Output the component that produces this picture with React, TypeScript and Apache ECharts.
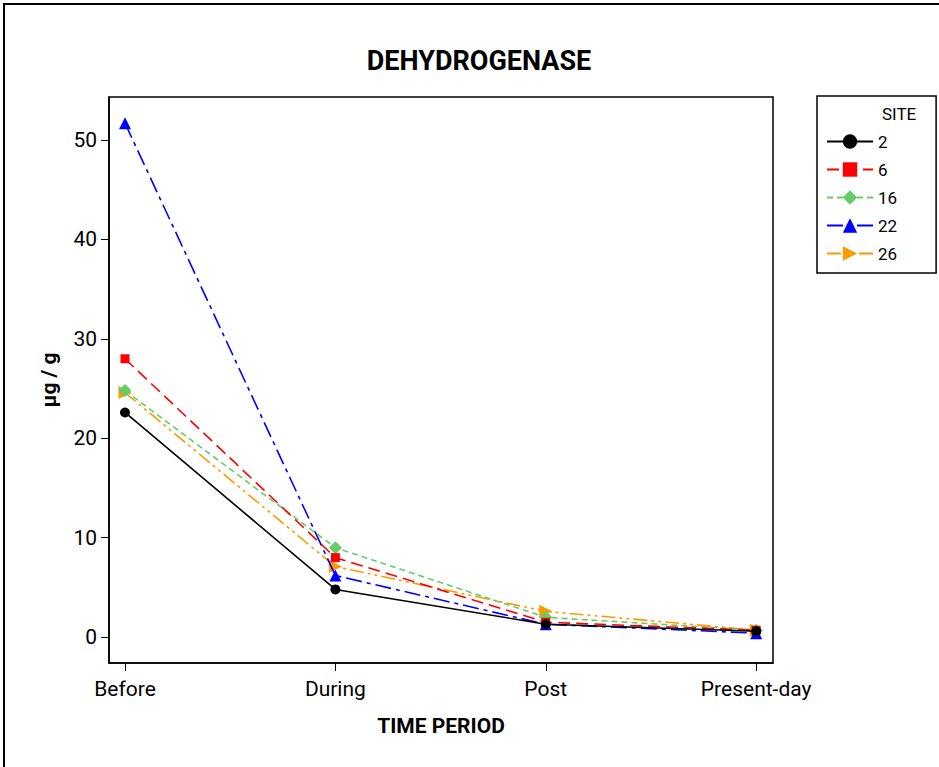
import React, { useEffect, useRef } from "react";
import * as echarts from "echarts";

const categories = ["Before", "During", "Post", "Present-day"];
const yTicks = [0, 10, 20, 30, 40, 50];
const sites = ["2", "6", "16", "22", "26"];
const site2 = [22.6, 4.8, 1.3, 0.6];
const site6 = [28.0, 8.0, 1.5, 0.7];
const site16 = [24.8, 9.0, 2.0, 0.7];
const site22 = [51.7, 6.2, 1.3, 0.4];
const site26 = [24.6, 7.1, 2.6, 0.7];

const FONT = "Roboto, 'Liberation Sans', sans-serif";

export default function App() {
  const ref = useRef<HTMLDivElement>(null);
  useEffect(() => {
    document.body.style.margin = "0";
    const chart = echarts.init(ref.current!, null, { renderer: "svg" });
    const toPts = (arr: number[]) => arr.map((v, i) => [i, v]);
    const styles = [
      { color: "#000000", symbol: "circle", size: 10, type: "solid", rotate: 0 },
      { color: "#FF0000", symbol: "rect", size: 9, type: [12, 6], rotate: 0 },
      { color: "#66CC66", symbol: "diamond", size: 13, type: [6, 4], rotate: 0 },
      { color: "#0000FF", symbol: "triangle", size: 12, type: [16, 5, 4, 5], rotate: 0 },
      { color: "#FF9900", symbol: "triangle", size: 13, type: [14, 4, 3, 4, 3, 4], rotate: -90 },
    ];
    const data = [site2, site6, site16, site22, site26];
    chart.setOption({
      animation: false,
      backgroundColor: "#ffffff",
      textStyle: { fontFamily: FONT },
      title: {
        text: "DEHYDROGENASE",
        left: 474,
        textAlign: "center",
        top: 42,
        textStyle: { fontFamily: FONT, fontWeight: "bold", fontSize: 27, color: "#000" },
      },
      graphic: [
        {
          type: "rect",
          shape: { x: 4, y: 4, width: 1200, height: 1200 },
          style: { fill: "none", stroke: "#000", lineWidth: 2 },
          silent: true,
        },
        {
          type: "text",
          left: 882,
          top: 105,
          style: { text: "SITE", fontFamily: FONT, fontSize: 17, fill: "#000" },
          silent: true,
        },
      ],
      legend: {
        orient: "vertical",
        left: 817,
        top: 96,
        padding: [37, 39, 11, 9],
        borderColor: "#000",
        borderWidth: 1.5,
        itemWidth: 46,
        itemHeight: 18,
        itemGap: 11,
        data: sites,
        textStyle: { fontFamily: FONT, fontSize: 17, color: "#000" },
      },
      grid: {
        left: 109,
        top: 97,
        width: 664,
        height: 566,
        show: true,
        borderColor: "#000",
        borderWidth: 1.5,
        containLabel: false,
      },
      xAxis: {
        type: "value",
        min: -0.076,
        max: 3.08,
        name: "TIME PERIOD",
        nameLocation: "middle",
        nameGap: 52,
        nameTextStyle: { fontFamily: FONT, fontWeight: "bold", fontSize: 21, color: "#000" },
        splitLine: { show: false },
        axisLine: { show: true, onZero: false, lineStyle: { color: "#000", width: 1.5 } },
        axisTick: { show: true, length: 8, inside: false, customValues: [0, 1, 2, 3], lineStyle: { color: "#000" } },
        axisLabel: {
          customValues: [0, 1, 2, 3],
          formatter: (v: number) => categories[Math.round(v)] ?? "",
          margin: 15,
          fontFamily: FONT,
          fontSize: 21,
          color: "#000",
        },
      },
      yAxis: {
        type: "value",
        min: -2.6,
        max: 54.33,
        name: "µg / g",
        nameLocation: "middle",
        nameGap: 50,
        nameTextStyle: { fontFamily: FONT, fontWeight: "bold", fontSize: 21, color: "#000" },
        splitLine: { show: false },
        axisLine: { show: true, onZero: false, lineStyle: { color: "#000", width: 1.5 } },
        axisTick: { show: true, length: 8, inside: false, customValues: yTicks, lineStyle: { color: "#000" } },
        axisLabel: {
          customValues: yTicks,
          margin: 12,
          fontFamily: FONT,
          fontSize: 21,
          color: "#000",
        },
      },
      series: sites.map((s, i) => ({
        name: s,
        type: "line",
        data: toPts(data[i]),
        symbol: styles[i].symbol,
        symbolSize: styles[i].size,
        symbolRotate: styles[i].rotate,
        showAllSymbol: true,
        itemStyle: { color: styles[i].color },
        lineStyle: { color: styles[i].color, width: 1.6, type: styles[i].type as any },
        z: 10 - i,
      })),
    });
    return () => chart.dispose();
  }, []);
  return <div ref={ref} style={{ width: 939, height: 767 }} />;
}
